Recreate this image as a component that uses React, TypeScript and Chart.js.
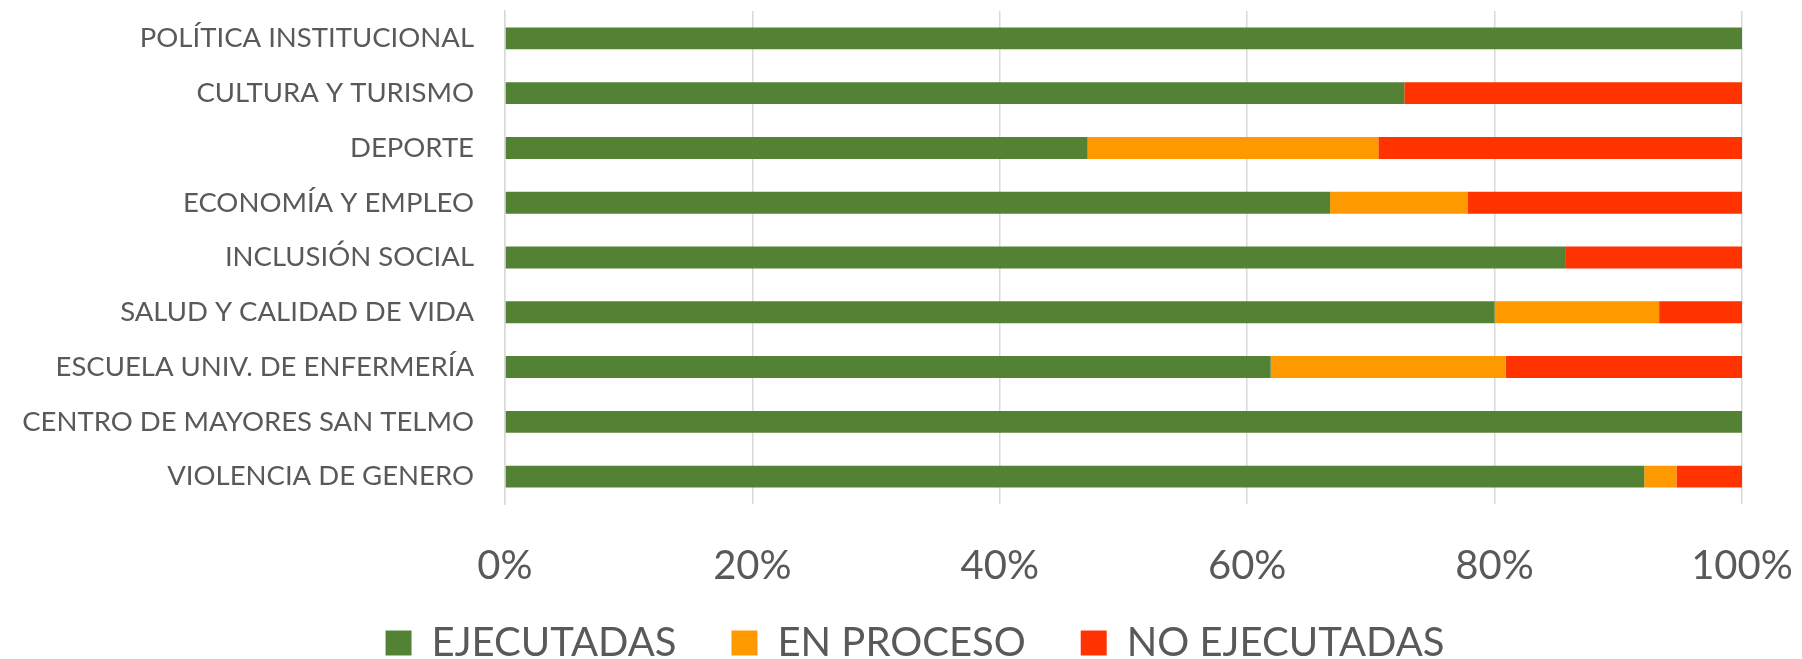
import React, { useEffect, useRef } from "react";
import { Chart, registerables } from "chart.js";

Chart.register(...registerables);

const categories = [
  "POLÍTICA INSTITUCIONAL",
  "CULTURA Y TURISMO",
  "DEPORTE",
  "ECONOMÍA Y EMPLEO",
  "INCLUSIÓN SOCIAL",
  "SALUD Y CALIDAD DE VIDA",
  "ESCUELA UNIV. DE ENFERMERÍA",
  "CENTRO DE MAYORES SAN TELMO",
  "VIOLENCIA DE GENERO",
];

const ejecutadas = [100, 72.7, 47.1, 66.7, 85.7, 80.0, 61.9, 100, 92.1];
const enProceso = [0, 0, 23.5, 11.1, 0, 13.3, 19.0, 0, 2.6];
const noEjecutadas = [0, 27.3, 29.4, 22.2, 14.3, 6.7, 19.1, 0, 5.3];

const xTicks = [0, 20, 40, 60, 80, 100];

const FONT = "Lato, 'Open Sans', sans-serif";
const TEXT = "#595959";

// places the legend box (Excel centres it differently from Chart.js)
const legendPlacement = {
  id: "legendPlacement",
  afterLayout(chart: any) {
    const l = chart.legend;
    if (!l) return;
    l.left = 88;
    l.right = 1742;
    l.width = 1654;
    l.top = 568;
    l.bottom = 659;
    l.height = 91;
  },
};

export default function App() {
  const ref = useRef<HTMLCanvasElement | null>(null);

  useEffect(() => {
    document.body.style.margin = "0";
    const ctx = ref.current!;
    const chart = new Chart(ctx, {
      type: "bar",
      data: {
        labels: categories,
        datasets: [
          { label: "EJECUTADAS", data: ejecutadas, backgroundColor: "#548235" },
          { label: "EN PROCESO", data: enProceso, backgroundColor: "#FF9900" },
          { label: "NO EJECUTADAS", data: noEjecutadas, backgroundColor: "#FF3300" },
        ],
      },
      plugins: [legendPlacement],
      options: {
        indexAxis: "y",
        animation: false,
        responsive: false,
        devicePixelRatio: 1,
        layout: { padding: { top: 11, right: 60, bottom: 0, left: 0 } },
        datasets: {
          bar: { categoryPercentage: 1, barPercentage: 0.4, borderWidth: 0 },
        },
        scales: {
          x: {
            stacked: true,
            min: 0,
            max: 100,
            afterBuildTicks: (scale: any) => {
              scale.ticks = xTicks.map((v) => ({ value: v }));
            },
            afterFit: (scale: any) => {
              scale.paddingLeft = 0;
              scale.paddingRight = 0;
              scale.height = 80;
            },
            ticks: {
              callback: (v: any) => v + "%",
              font: { family: FONT, size: 40 },
              color: TEXT,
              padding: 38,
              maxRotation: 0,
            },
            grid: { color: "#d9d9d9", lineWidth: 1.5, drawTicks: false },
            border: { display: false },
          },
          y: {
            stacked: true,
            afterFit: (scale: any) => {
              scale.width = 505;
              scale.paddingTop = 0;
              scale.paddingBottom = 0;
            },
            ticks: {
              font: { family: FONT, size: 27.5 },
              color: TEXT,
              padding: 31,
            },
            grid: { display: false, drawTicks: false },
            border: { display: true, color: "#d9d9d9", width: 1.5 },
          },
        },
        plugins: {
          legend: {
            position: "bottom",
            maxHeight: 75,
            labels: {
              font: { family: FONT, size: 40 },
              color: TEXT,
              boxWidth: 26,
              boxHeight: 25,
              padding: 55,
            },
          },
          tooltip: { enabled: false },
        },
      },
    });
    return () => chart.destroy();
  }, []);

  return (
    <div style={{ position: "absolute", left: 0, top: 0, width: 1802, height: 659, background: "#fff" }}>
      <canvas ref={ref} width={1802} height={659} style={{ width: 1802, height: 659 }} />
    </div>
  );
}
